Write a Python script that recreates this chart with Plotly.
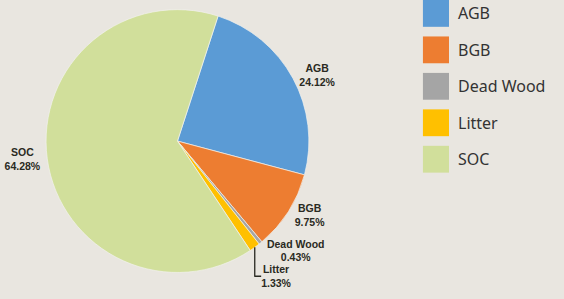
import plotly.graph_objects as go

categories = ["AGB", "BGB", "Dead Wood", "Litter", "SOC"]
shares = [24.12, 9.75, 0.43, 1.33, 64.28]
share_labels = ["24.12%", "9.75%", "0.43%", "1.33%", "64.28%"]
colors = ["#5b9bd5", "#ed7d31", "#a5a5a5", "#ffc000", "#d1df9b"]

bg = "#e9e6e0"
W, H = 564, 299
cx, cy, r = 164, 142, 136  # pie domain centre (px from top-left) and half-size

fig = go.Figure()
fig.add_trace(go.Pie(
    labels=categories,
    values=shares,
    text=share_labels,
    texttemplate="%{label}<br>%{text}",
    textposition="outside",
    textfont=dict(family="Liberation Sans", size=10.5, color="#2a2a22", weight="bold"),
    marker=dict(colors=colors, line=dict(color="#f2f2ee", width=0.7)),
    sort=False,
    direction="clockwise",
    rotation=18,
    showlegend=False,
    hoverinfo="label+text",
    domain=dict(x=[(cx - r) / W, (cx + r) / W],
                y=[(H - cy - r) / H, (H - cy + r) / H]),
))

# custom legend with large swatches
x0, sw, step, top = 418, 27, 36.7, 0
shapes, annots = [], []
for i, (c, col) in enumerate(zip(categories, colors)):
    y_top = top + i * step
    shapes.append(dict(type="rect", xref="paper", yref="paper",
                       x0=x0 / W, x1=(x0 + sw) / W,
                       y0=1 - (y_top + sw) / H, y1=1 - y_top / H,
                       fillcolor=col, line=dict(width=0)))
    annots.append(dict(xref="paper", yref="paper", x=(x0 + sw + 7) / W,
                       y=1 - (y_top + sw / 2) / H, text=c, showarrow=False,
                       xanchor="left", yanchor="middle",
                       font=dict(family="Noto Sans", size=16, color="#333333")))

fig.update_layout(
    width=W, height=H,
    margin=dict(l=0, r=0, t=0, b=0),
    paper_bgcolor=bg, plot_bgcolor=bg,
    shapes=shapes, annotations=annots,
)

fig.write_html("out.html", config={"displayModeBar": False},
               post_script="document.body.style.margin='0px';document.body.style.background='%s';" % bg)
